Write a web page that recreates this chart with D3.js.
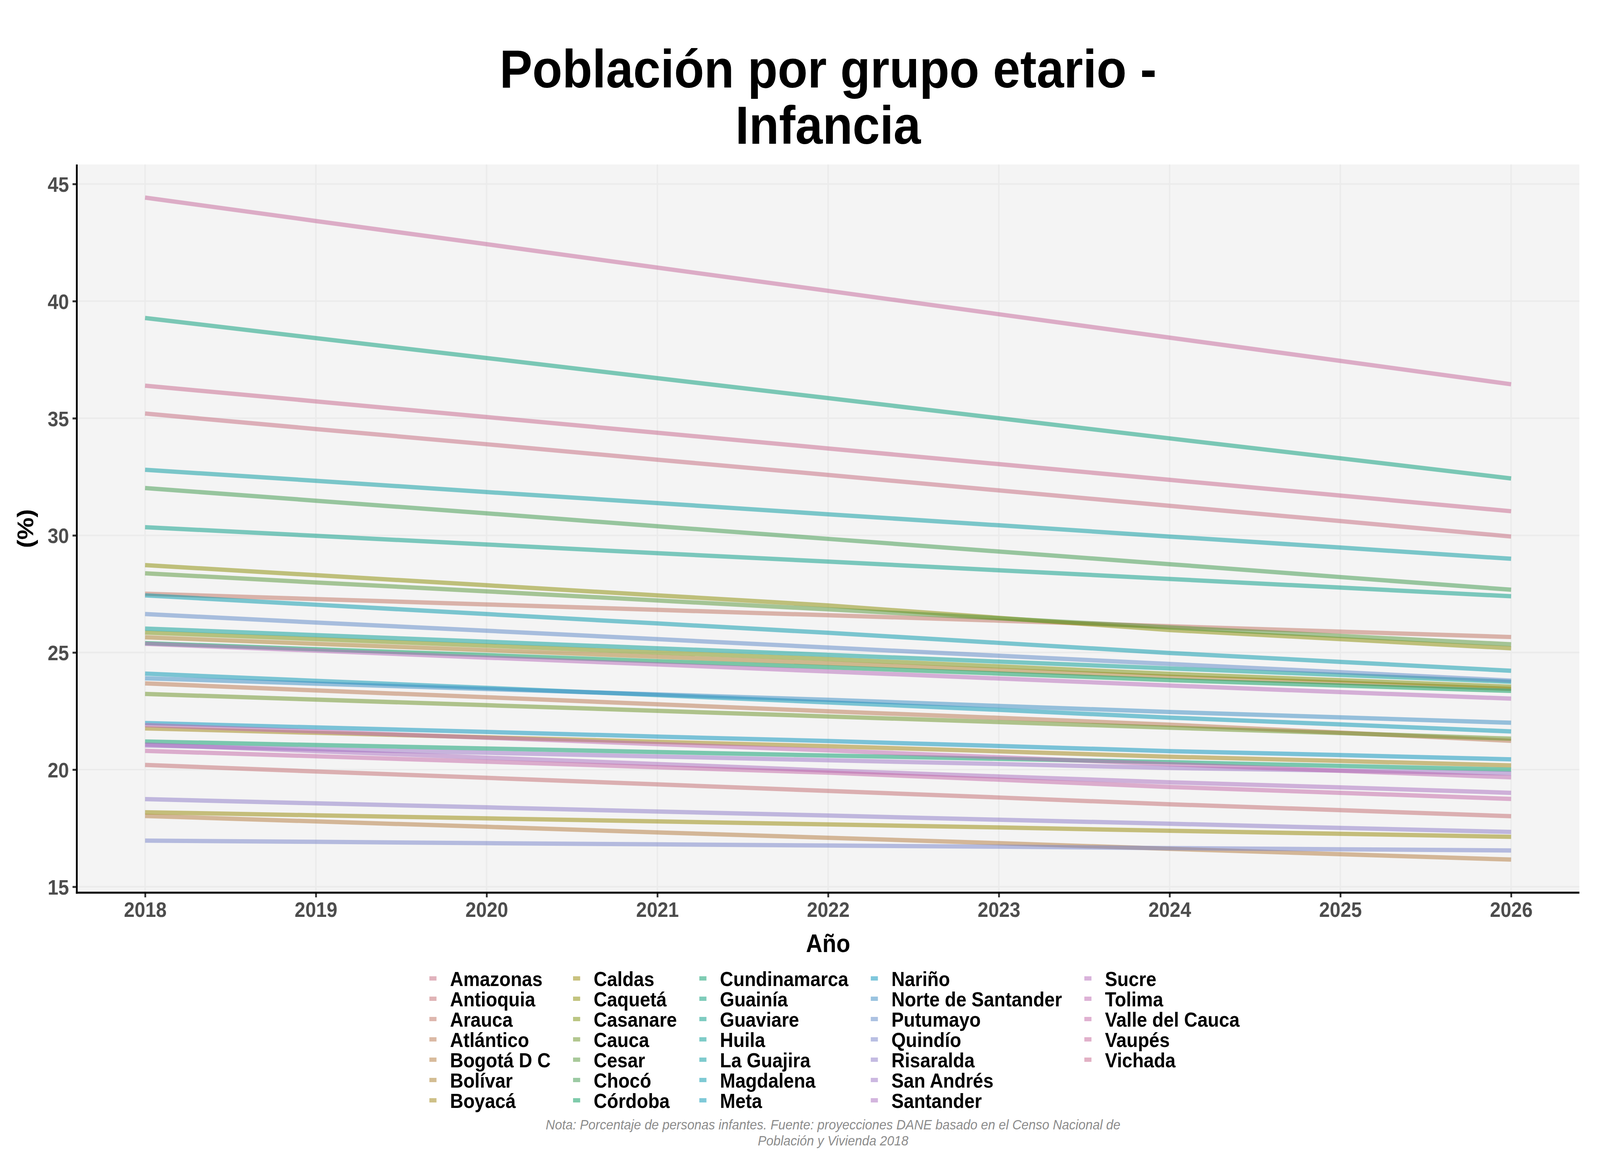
<!DOCTYPE html>
<html>
<head>
<meta charset="utf-8">
<script src="https://cdn.jsdelivr.net/npm/d3@7"></script>
<style>
  html, body { margin: 0; padding: 0; background: #ffffff; overflow: hidden; width: 100%; height: 100%; }
  svg { display: block; width: 100vw; height: 100vh; }
</style>
</head>
<body>
<svg id="chart" viewBox="0 0 4500 3000" preserveAspectRatio="none"></svg>
<script>
// ---------------- DATA ----------------
const years = [2018, 2019, 2020, 2021, 2022, 2023, 2024, 2025, 2026];
const yTicks = [15, 20, 25, 30, 35, 40, 45];
const departamentos = ["Amazonas","Antioquia","Arauca","Atlántico","Bogotá D C","Bolívar","Boyacá",
  "Caldas","Caquetá","Casanare","Cauca","Cesar","Chocó","Córdoba",
  "Cundinamarca","Guainía","Guaviare","Huila","La Guajira","Magdalena","Meta",
  "Nariño","Norte de Santander","Putumayo","Quindío","Risaralda","San Andrés","Santander",
  "Sucre","Tolima","Valle del Cauca","Vaupés","Vichada"];

const vAmazonas     = [35.20, 34.54, 33.89, 33.23, 32.58, 31.92, 31.26, 30.61, 29.95];
const vAntioquia    = [20.20, 19.92, 19.65, 19.37, 19.09, 18.81, 18.52, 18.27, 18.01];
const vArauca       = [27.51, 27.28, 27.05, 26.82, 26.59, 26.36, 26.12, 25.89, 25.66];
const vAtlantico    = [23.68, 23.38, 23.09, 22.79, 22.49, 22.21, 21.92, 21.58, 21.23];
const vBogota       = [18.02, 17.79, 17.56, 17.32, 17.09, 16.86, 16.62, 16.39, 16.16];
const vBolivar      = [25.65, 25.37, 25.10, 24.82, 24.54, 24.25, 23.96, 23.71, 23.45];
const vBoyaca       = [21.76, 21.57, 21.38, 21.19, 21.00, 20.78, 20.55, 20.37, 20.18];
const vCaldas       = [18.18, 18.05, 17.92, 17.79, 17.66, 17.53, 17.39, 17.26, 17.13];
const vCaqueta      = [28.73, 28.30, 27.87, 27.44, 27.01, 26.48, 25.96, 25.57, 25.18];
const vCasanare     = [25.85, 25.57, 25.29, 25.00, 24.72, 24.41, 24.09, 23.82, 23.54];
const vCauca        = [23.23, 22.99, 22.75, 22.51, 22.27, 22.03, 21.79, 21.56, 21.32];
const vCesar        = [28.38, 27.99, 27.61, 27.22, 26.84, 26.46, 26.07, 25.71, 25.35];
const vChoco        = [32.02, 31.48, 30.94, 30.39, 29.85, 29.31, 28.77, 28.22, 27.68];
const vCordoba      = [25.40, 25.14, 24.89, 24.63, 24.37, 24.10, 23.82, 23.59, 23.36];
const vCundinamarca = [21.20, 21.05, 20.90, 20.75, 20.60, 20.46, 20.32, 20.16, 20.00];
const vGuainia      = [39.28, 38.42, 37.57, 36.71, 35.86, 35.00, 34.14, 33.29, 32.43];
const vGuaviare     = [30.35, 29.98, 29.61, 29.24, 28.88, 28.51, 28.14, 27.77, 27.40];
const vHuila        = [26.02, 25.74, 25.46, 25.18, 24.90, 24.61, 24.32, 24.04, 23.75];
const vLaGuajira    = [32.80, 32.33, 31.85, 31.38, 30.90, 30.43, 29.95, 29.48, 29.00];
const vMagdalena    = [27.44, 27.04, 26.64, 26.24, 25.84, 25.41, 24.98, 24.60, 24.22];
const vMeta         = [24.10, 23.79, 23.49, 23.18, 22.87, 22.55, 22.22, 21.93, 21.63];
const vNarino       = [21.99, 21.80, 21.61, 21.41, 21.22, 21.01, 20.79, 20.62, 20.44];
const vNorteSant    = [23.90, 23.67, 23.44, 23.21, 22.98, 22.72, 22.46, 22.23, 22.00];
const vPutumayo     = [26.64, 26.28, 25.93, 25.57, 25.21, 24.86, 24.51, 24.16, 23.80];
const vQuindio      = [16.97, 16.92, 16.86, 16.81, 16.76, 16.71, 16.65, 16.60, 16.55];
const vRisaralda    = [18.74, 18.56, 18.39, 18.21, 18.04, 17.86, 17.69, 17.51, 17.34];
const vSanAndres    = [21.03, 20.87, 20.72, 20.56, 20.40, 20.24, 20.07, 19.96, 19.84];
const vSantander    = [21.07, 20.79, 20.51, 20.24, 19.96, 19.71, 19.46, 19.24, 19.01];
const vSucre        = [25.37, 25.08, 24.78, 24.49, 24.19, 23.89, 23.59, 23.31, 23.03];
const vTolima       = [21.90, 21.63, 21.36, 21.09, 20.82, 20.53, 20.23, 19.95, 19.67];
const vValle        = [20.80, 20.57, 20.34, 20.10, 19.87, 19.57, 19.26, 19.01, 18.75];
const vVaupes       = [44.42, 43.42, 42.43, 41.43, 40.44, 39.44, 38.44, 37.45, 36.45];
const vVichada      = [36.39, 35.72, 35.05, 34.38, 33.71, 33.04, 32.37, 31.70, 31.03];

const seriesValues = [vAmazonas, vAntioquia, vArauca, vAtlantico, vBogota, vBolivar, vBoyaca,
  vCaldas, vCaqueta, vCasanare, vCauca, vCesar, vChoco, vCordoba,
  vCundinamarca, vGuainia, vGuaviare, vHuila, vLaGuajira, vMagdalena, vMeta,
  vNarino, vNorteSant, vPutumayo, vQuindio, vRisaralda, vSanAndres, vSantander,
  vSucre, vTolima, vValle, vVaupes, vVichada];

const titleLines = ["Población por grupo etario -", "Infancia"];
const captionLines = ["Nota: Porcentaje de personas infantes. Fuente: proyecciones DANE basado en el Censo Nacional de",
                      "Población y Vivienda 2018"];

// ---------------- COLOURS (hue palette, CIE-LUV polar) ----------------
function hclLuv(h, c, l) {
  const hr = h * Math.PI / 180;
  const U = c * Math.cos(hr), V = c * Math.sin(hr);
  const un = 0.1978398, vn = 0.4683363;
  const Y = l > 8 ? 100 * Math.pow((l + 16) / 116, 3) : 100 * l / 903.3;
  const u = U / (13 * l) + un, v = V / (13 * l) + vn;
  const X = 9 * Y * u / (4 * v);
  const Z = -X / 3 - 5 * Y + 3 * Y / v;
  const x = X / 100, y = Y / 100, z = Z / 100;
  const lin = [
    3.240479 * x - 1.537150 * y - 0.498535 * z,
   -0.969256 * x + 1.875992 * y + 0.041556 * z,
    0.055648 * x - 0.204043 * y + 1.057311 * z];
  const g = lin.map(t => {
    const s = t <= 0.0031308 ? 12.92 * t : 1.055 * Math.pow(Math.max(t, 0), 1 / 2.4) - 0.055;
    return Math.round(255 * Math.min(1, Math.max(0, s)));
  });
  return d3.rgb(g[0], g[1], g[2]).formatHex();
}
const nSeries = departamentos.length;
const colors = departamentos.map((d, i) => hclLuv(0 + i * 360 / nSeries, 62, 55));
const lineOpacity = 0.5;

// ---------------- LAYOUT ----------------
const svg = d3.select("#chart");
const W = 4500, H = 3000;
const panel = { left: 216, right: 4442, top: 421, bottom: 2285 };
const FONT = "'Liberation Sans', Arial, Helvetica, sans-serif";

svg.append("rect").attr("x", 0).attr("y", 0).attr("width", W).attr("height", H).attr("fill", "#ffffff");

const allVals = seriesValues.flat();
const yMin = d3.min(allVals), yMax = d3.max(allVals);
const yPad = (yMax - yMin) * 0.05;
const x = d3.scaleLinear().domain([years[0] - 0.4, years[years.length - 1] + 0.4]).range([panel.left, panel.right]);
const y = d3.scaleLinear().domain([yMin - yPad, yMax + yPad]).range([panel.bottom, panel.top]);

// panel background
svg.append("rect")
  .attr("x", panel.left).attr("y", panel.top)
  .attr("width", panel.right - panel.left).attr("height", panel.bottom - panel.top)
  .attr("fill", "#f4f4f4");

// grid
const grid = svg.append("g");
grid.selectAll("line.gy").data(yTicks).enter().append("line")
  .attr("x1", panel.left).attr("x2", panel.right)
  .attr("y1", d => y(d)).attr("y2", d => y(d))
  .attr("stroke", "#ebebeb").attr("stroke-width", 4);
grid.selectAll("line.gx").data(years).enter().append("line")
  .attr("y1", panel.top).attr("y2", panel.bottom)
  .attr("x1", d => x(d)).attr("x2", d => x(d))
  .attr("stroke", "#ebebeb").attr("stroke-width", 4);

// lines
const lineGen = d3.line().x((d, i) => x(years[i])).y(d => y(d));
const linesG = svg.append("g");
seriesValues.forEach((vals, i) => {
  linesG.append("path")
    .attr("d", lineGen(vals))
    .attr("fill", "none")
    .attr("stroke", colors[i])
    .attr("stroke-opacity", lineOpacity)
    .attr("stroke-width", 11)
    .attr("stroke-linecap", "butt")
    .attr("stroke-linejoin", "round");
});

// axes
const xAxis = d3.axisBottom(x).tickValues(years).tickFormat(d3.format("d")).tickSize(12).tickPadding(16);
const yAxis = d3.axisLeft(y).tickValues(yTicks).tickFormat(d3.format("d")).tickSize(12).tickPadding(10);

const gx = svg.append("g").attr("transform", `translate(0,${panel.bottom})`).call(xAxis);
const gy = svg.append("g").attr("transform", `translate(${panel.left},0)`).call(yAxis);
[gx, gy].forEach(g => {
  g.select(".domain").remove();
  g.selectAll(".tick line").attr("stroke", "#333333").attr("stroke-width", 5);
  g.selectAll(".tick text")
    .attr("font-family", FONT).attr("font-size", 54).attr("font-weight", "bold")
    .attr("fill", "#4d4d4d");
});
gx.selectAll(".tick text").attr("dy", null).attr("y", 62);
gy.selectAll(".tick text").attr("dy", "0.36em").attr("x", -22);

// axis lines (left & bottom)
svg.append("line").attr("x1", panel.left).attr("x2", panel.left)
  .attr("y1", panel.top).attr("y2", panel.bottom + 2.5)
  .attr("stroke", "#000").attr("stroke-width", 5);
svg.append("line").attr("x1", panel.left - 2.5).attr("x2", panel.right)
  .attr("y1", panel.bottom).attr("y2", panel.bottom)
  .attr("stroke", "#000").attr("stroke-width", 5);

// axis titles
const panelCx = (panel.left + panel.right) / 2;
svg.append("text").attr("x", panelCx).attr("y", 2437)
  .attr("text-anchor", "middle").attr("font-family", FONT).attr("font-size", 64).attr("font-weight", "bold")
  .attr("fill", "#000").text("Año");
svg.append("text").attr("transform", `translate(93,${(panel.top + panel.bottom) / 2}) rotate(-90)`)
  .attr("text-anchor", "middle").attr("font-family", FONT).attr("font-size", 64).attr("font-weight", "bold")
  .attr("fill", "#000").text("(%)");

// title
svg.append("text").attr("x", panelCx).attr("y", 224)
  .attr("text-anchor", "middle").attr("font-family", FONT).attr("font-size", 138).attr("font-weight", "bold")
  .attr("fill", "#000").text(titleLines[0]);
svg.append("text").attr("x", panelCx).attr("y", 368)
  .attr("text-anchor", "middle").attr("font-family", FONT).attr("font-size", 138).attr("font-weight", "bold")
  .attr("fill", "#000").text(titleLines[1]);

// legend: 5 columns x 7 rows, filled column-wise
const nRows = 7;
const nCols = Math.ceil(nSeries / nRows);
const legG = svg.append("g");
const legFont = 52;
const keyW = 20, keyToText = 58, textToNext = 63;
const rowY0 = 2524, rowStep = 52;
const measure = svg.append("text").attr("font-family", FONT).attr("font-size", legFont).attr("font-weight", "bold");
const widths = departamentos.map(d => { measure.text(d); return measure.node().getComputedTextLength(); });
measure.remove();
const colMax = d3.range(nCols).map(c => d3.max(widths.slice(c * nRows, (c + 1) * nRows)));
const colLeft = [];
let acc = 0;
for (let c = 0; c < nCols; c++) { colLeft.push(acc); acc += keyToText + colMax[c] + (c < nCols - 1 ? textToNext : 0); }
const legendTotal = acc;
const legendLeft = 2347 - legendTotal / 2;
departamentos.forEach((d, i) => {
  const c = Math.floor(i / nRows), r = i % nRows;
  const kx = legendLeft + colLeft[c];
  const by = rowY0 + r * rowStep;
  legG.append("line")
    .attr("x1", kx).attr("x2", kx + keyW)
    .attr("y1", by - 19.5).attr("y2", by - 19.5)
    .attr("stroke", colors[i]).attr("stroke-opacity", lineOpacity).attr("stroke-width", 11);
  legG.append("text").attr("x", kx + keyToText).attr("y", by)
    .attr("font-family", FONT).attr("font-size", legFont).attr("font-weight", "bold")
    .attr("fill", "#000").text(d);
});

// caption
captionLines.forEach((t, i) => {
  svg.append("text").attr("x", 2343).attr("y", 2891 + i * 41)
    .attr("text-anchor", "middle").attr("font-family", FONT).attr("font-size", 36)
    .attr("font-style", "italic").attr("fill", "#8c8c8c").text(t);
});
</script>
</body>
</html>
